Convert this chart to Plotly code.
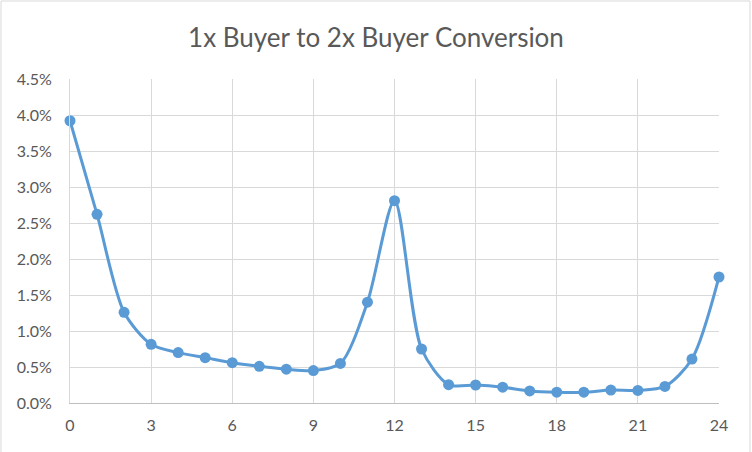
import plotly.graph_objects as go

hours = list(range(25))
conversion = [3.92, 2.62, 1.26, 0.815, 0.70, 0.63, 0.56, 0.51, 0.47, 0.45,
              0.55, 1.40, 2.81, 0.75, 0.255, 0.25, 0.22, 0.167, 0.15, 0.15,
              0.18, 0.175, 0.23, 0.61, 1.75]
conversion = [v / 100 for v in conversion]

x_ticks = list(range(0, 25, 3))
y_ticks = [i * 0.005 for i in range(10)]

W, H = 752, 452
L, R, T, B = 70, 33, 79, 49
pw, ph = W - L - R, H - T - B

fig = go.Figure()
fig.add_trace(go.Scatter(
    x=hours, y=conversion, mode='lines+markers',
    line=dict(color='#5b9bd5', width=3, shape='spline', smoothing=0.8),
    marker=dict(color='#5b9bd5', size=11),
    cliponaxis=False,
    showlegend=False,
))

fig.update_layout(
    width=W, height=H,
    margin=dict(l=L, r=R, t=T, b=B),
    paper_bgcolor='white', plot_bgcolor='white',
    font=dict(family='Lato, Liberation Sans, sans-serif', color='#595959', size=16),
    title=dict(text='1x Buyer to 2x Buyer Conversion', x=0.5, xanchor='center',
               y=1 - 38 / H, yanchor='middle', font=dict(size=26, color='#595959')),
)
fig.update_xaxes(
    range=[0, 24], tickvals=x_ticks, ticktext=[str(t) for t in x_ticks],
    showgrid=True, gridcolor='#d9d9d9', gridwidth=1,
    showline=True, linecolor='#bfbfbf', linewidth=1,
    zeroline=False, ticks='', ticklabelstandoff=8,
)
fig.update_yaxes(
    range=[0, 0.045], tickvals=y_ticks, tickformat='.1%',
    showgrid=True, gridcolor='#d9d9d9', gridwidth=1,
    showline=True, linecolor='#d9d9d9', linewidth=1,
    zeroline=False, ticks='', ticklabelstandoff=14,
)

# outer chart border
fig.add_shape(type='rect', xref='paper', yref='paper',
              x0=(1 - L) / pw, x1=(W - 2 - L) / pw,
              y0=(B - H + 2) / ph, y1=(H - 1 - B) / ph,
              line=dict(color='#d9d9d9', width=1), layer='below')

fig.write_html("out.html", config={'displayModeBar': False},
               post_script="document.body.style.margin='0';")
